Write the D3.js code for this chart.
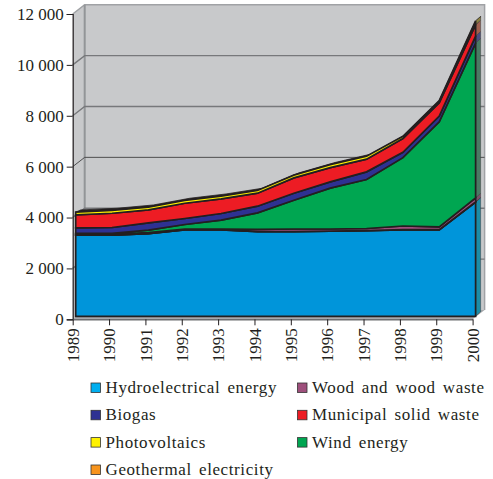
<!DOCTYPE html>
<html><head><meta charset="utf-8">
<script src="https://cdnjs.cloudflare.com/ajax/libs/d3/7.8.5/d3.min.js"></script>
<style>html,body{margin:0;padding:0;background:#fff}svg{display:block}text{font-family:"Liberation Serif",serif;fill:#231f20}</style>
</head><body><svg id="c" width="493" height="479"></svg>
<script>
const years=[1989,1990,1991,1992,1993,1994,1995,1996,1997,1998,1999,2000];
const hydro=[3190,3190,3250,3400,3400,3330,3330,3345,3365,3400,3400,4485];
const geothermal=[3,3,3,4,4,4,4,4,5,5,5,6];
const wood=[42,42,33,28,28,79,98,83,82,145,106,161];
const wind=[30,30,98,176,345,651,1132,1604,1926,2686,4134,6089];
const biogas=[209,225,287,236,264,264,275,248,299,208,224,275];
const municipal=[510,561,509,600,572,510,600,561,498,542,521,443];
const photovoltaics=[110,110,110,110,110,110,110,115,120,90,90,150];
const seriesKeys=["Hydroelectrical energy","Geothermal electricity","Wood and wood waste","Wind energy","Biogas","Municipal solid waste","Photovoltaics"];
const seriesValues=[hydro,geothermal,wood,wind,biogas,municipal,photovoltaics];
const seriesColors=["#0095da","#f7941d","#9e4f7c","#00a651","#2e3192","#ed1c24","#fff200"];
const sideColors=["#1b8ca6","#8a6a3a","#7a4f6a","#4a7a63","#4a4c80","#a0604f","#8a7f40"];
const legendRows=[
 ["Hydroelectrical energy","#00aeef",0,0],["Wood and wood waste","#9e4f7c",1,0],
 ["Biogas","#2e3192",0,1],["Municipal solid waste","#ed1c24",1,1],
 ["Photovoltaics","#fff200",0,2],["Wind energy","#00a651",1,2],
 ["Geothermal electricity","#f7941d",0,3]];
const yTicks=[0,2000,4000,6000,8000,10000,12000];

const svg=d3.select("#c");
const x=d3.scalePoint().domain(years).range([72.7,472.6]);
const y=d3.scaleLinear().domain([0,12000]).range([319.3,14]);
const backDx=12, backDy=-9.3, frontDx=3, frontDy=-3, sideDx=5, sideDy=-4.5, ridgeDy=-2.2;
const x0=x(1989),x1=x(2000),y0=y(0),yT=y(12000);
const ln=d3.line();

// walls
svg.append("path").attr("d",ln([[x0,yT],[x0+backDx,yT+backDy],[x0+backDx,y0+backDy],[x0,y0]])+"Z").attr("fill","#c8c9cb");
svg.append("rect").attr("x",x0+backDx).attr("y",yT+backDy).attr("width",x1-x0).attr("height",y0-yT).attr("fill","#c8c9cb");
svg.append("path").attr("d",ln([[x0,y0],[x0+backDx,y0+backDy],[x1+backDx,y0+backDy],[x1,y0]])+"Z").attr("fill","#a7a9ac");
svg.append("path").attr("d",ln([[x0,yT],[x0+backDx,yT+backDy],[x1+backDx,yT+backDy],[x1+backDx,y0+backDy]])).attr("fill","none").attr("stroke","#a0a2a5").attr("stroke-width",1.5);
svg.append("path").attr("d",ln([[x0+backDx,yT+backDy],[x0+backDx,y0+backDy]])).attr("stroke","#939598").attr("stroke-width",2);

// gridlines
yTicks.slice(1,-1).forEach(t=>{
  svg.append("path").attr("d",ln([[x0,y(t)],[x0+backDx,y(t)+backDy],[x1+backDx,y(t)+backDy]]))
    .attr("fill","none").attr("stroke",t===6000?"#4d4d4f":"#77787b").attr("stroke-width",t===6000?1:1.4);
});

// stacked areas on the front plane
const table=years.map((yr,i)=>{const r={year:yr};seriesKeys.forEach((k,j)=>r[k]=seriesValues[j][i]);return r;});
const stacked=d3.stack().keys(seriesKeys)(table);
const px=d=>x(d.data.year)+frontDx;
const area=d3.area().x(px).y0(d=>y(d[0])+frontDy).y1(d=>y(d[1])+frontDy);

// end face and top of the solid
const topSeries=stacked[stacked.length-1];
const topPts=topSeries.map(d=>[px(d),y(d[1])+frontDy]);
const ridge=topPts.map((p,i)=>[p[0]+sideDx,p[1]+(i===topPts.length-1?sideDy:ridgeDy)]);
svg.append("path").attr("d",ln(topPts.concat(ridge.slice().reverse()))+"Z")
  .attr("fill","#231f20").attr("stroke","#231f20").attr("stroke-width",0.8);
stacked.forEach((s,j)=>{
  const d=s[s.length-1],xe=px(d),a=y(d[0])+frontDy,b=y(d[1])+frontDy;
  svg.append("path").attr("d",ln([[xe,a],[xe,b],[xe+sideDx,b+sideDy],[xe+sideDx,a+sideDy]])+"Z")
    .attr("fill",sideColors[j]).attr("stroke","#3b3b3d").attr("stroke-width",0.5);
});
stacked.forEach((s,j)=>{
  svg.append("path").attr("d",area(s)).attr("fill",seriesColors[j]).attr("stroke","#231f20").attr("stroke-width",1.7).attr("stroke-linejoin","miter");
});
// axes
const yAxis=d3.axisLeft(y).tickValues(yTicks).tickSize(6).tickPadding(3).tickFormat(d=>d3.format(",")(d).replace(",","\u00a0"));
const gy=svg.append("g").attr("transform",`translate(${x0},0)`).call(yAxis);
gy.selectAll("path").attr("stroke","#231f20").attr("stroke-width",1.2);
gy.selectAll("line").attr("stroke","#231f20");
gy.selectAll("text").style("font-size","17px").style("font-family","Liberation Serif");
const xAxis=d3.axisBottom(x).tickSize(6).tickSizeOuter(0).tickFormat(d3.format("d"));
const gx=svg.append("g").attr("transform",`translate(0,${y0})`).call(xAxis);
gx.selectAll("path").attr("stroke","#6d6e71").attr("stroke-width",1.5);
gx.selectAll("line").attr("stroke","#231f20");
gx.selectAll("text").attr("transform","rotate(-90)").attr("text-anchor","end").attr("x",-9).attr("y",0).attr("dy","0.33em").style("font-size","17px").style("font-family","Liberation Serif");

// legend
const colX=[91,297.5], rowY=[383,410.3,437.6,465];
const leg=svg.append("g").selectAll("g").data(legendRows).join("g").attr("transform",d=>`translate(${colX[d[2]]},${rowY[d[3]]})`);
leg.append("rect").attr("width",9.5).attr("height",9.5).attr("fill",d=>d[1]).attr("stroke","#333").attr("stroke-width",0.8);
leg.append("text").attr("x",14.5).attr("y",10).attr("font-size",17).attr("letter-spacing",0.6).attr("word-spacing",2.4).text(d=>d[0]);
</script></body></html>
